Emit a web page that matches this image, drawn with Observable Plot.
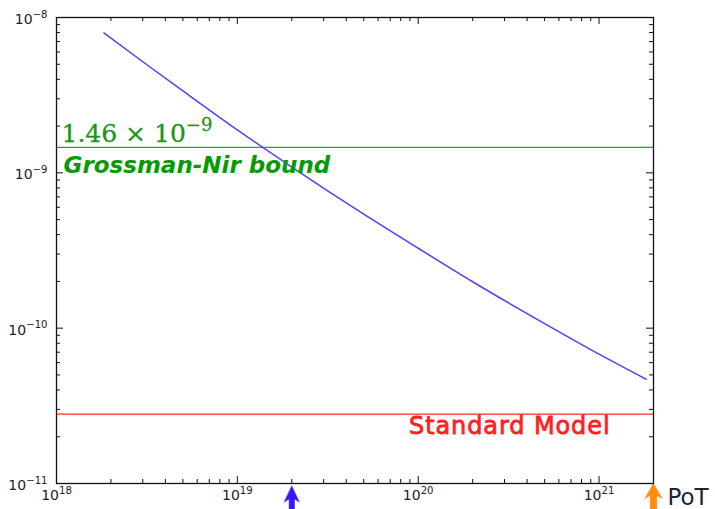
<!DOCTYPE html>
<html><head><meta charset="utf-8">
<script src="https://cdn.jsdelivr.net/npm/d3@7"></script>
<script src="https://cdn.jsdelivr.net/npm/@observablehq/plot@0.6"></script>
<style>body{margin:0;background:#fff} svg{display:block}</style>
</head><body>
<script>
// ---- data ----
const pot = [1.83e18, 3e18, 5e18, 1e19, 2e19, 5e19, 1e20, 2e20, 5e20, 1e21, 1.82e21];
const sensitivity = [7.96e-9, 5.19e-9, 3.37e-9, 1.89e-9, 1.09e-9, 5.42e-10, 3.27e-10, 1.99e-10, 1.07e-10, 6.8e-11, 4.69e-11];
const xDomain = [1e18, 2e21];
const yDomain = [1e-11, 1e-8];
const xMajor = [1e18, 1e19, 1e20, 1e21];
const yMajor = [1e-11, 1e-10, 1e-9, 1e-8];
const minorMultiples = [2, 3, 4, 5, 6, 7, 8, 9];
const grossmanNir = [1.46e-9];
const standardModel = [2.8e-11];
const gnValueLabel = ["1.46 × 10^−9"];
const gnNameLabel = ["Grossman-Nir bound"];
const smLabel = ["Standard Model"];
const blueArrowAt = [2e19];
const orangeArrowAt = [2e21];
const unitLabel = ["PoT"];

// ---- layout ----
const W = 715, H = 509, mL = 56, mR = 62, mT = 17, mB = 26;
const innerW = W - mL - mR, innerH = H - mT - mB;
const minorOf = (majors, dom) => majors.flatMap(p => minorMultiples.map(m => m * p)).filter(v => v > dom[0] && v < dom[1]);
const xMinor = minorOf(xMajor, xDomain);
const yMinor = minorOf(yMajor, yDomain);
const curveData = pot.map((x, i) => ({x, y: sensitivity[i]}));
const expFmt = d => "10^" + String(Math.round(Math.log10(d))).replace("-", "−");

function arrowShape(w, h, s, notch) {
  return {draw(ctx, l) {
    ctx.moveTo(0, -l);
    ctx.lineTo(w, -l + h);
    ctx.lineTo(s, -l + h - notch);
    ctx.lineTo(s, 0);
    ctx.lineTo(-s, 0);
    ctx.lineTo(-s, -l + h - notch);
    ctx.lineTo(-w, -l + h);
    ctx.closePath();
  }};
}
const tickColor = "#111";

const chart = Plot.plot({
  width: W, height: H,
  marginLeft: mL, marginRight: mR, marginTop: mT, marginBottom: mB,
  style: {fontFamily: "DejaVu Sans", fontSize: "14px", color: "#222", background: "white"},
  x: {type: "log", domain: xDomain},
  y: {type: "log", domain: yDomain},
  marks: [
    // inward ticks on all four sides
    Plot.tickX(xMajor, {x: d => d, insetTop: innerH - 7, stroke: tickColor}),
    Plot.tickX(xMinor, {x: d => d, insetTop: innerH - 4, stroke: tickColor}),
    Plot.tickX(xMajor, {x: d => d, insetBottom: innerH - 7, stroke: tickColor}),
    Plot.tickX(xMinor, {x: d => d, insetBottom: innerH - 4, stroke: tickColor}),
    Plot.tickY(yMajor, {y: d => d, insetRight: innerW - 7, stroke: tickColor}),
    Plot.tickY(yMinor, {y: d => d, insetRight: innerW - 4, stroke: tickColor}),
    Plot.tickY(yMajor, {y: d => d, insetLeft: innerW - 7, stroke: tickColor}),
    Plot.tickY(yMinor, {y: d => d, insetLeft: innerW - 4, stroke: tickColor}),
    Plot.axisX(xMajor, {anchor: "bottom", label: null, tickSize: 0, tickPadding: 7, tickFormat: expFmt, fontSize: 14}),
    Plot.axisY(yMajor, {anchor: "left", label: null, tickSize: 0, tickPadding: 9, dy: 2, tickFormat: expFmt, fontSize: 14}),
    Plot.ruleY(grossmanNir, {stroke: "#1fa81f", strokeWidth: 1.3}),
    Plot.ruleY(standardModel, {stroke: "#ff2a2a", strokeWidth: 1.3}),
    Plot.line(curveData, {x: "x", y: "y", stroke: "#5a3cff", strokeWidth: 1.5, curve: "monotone-x"}),
    Plot.text(gnValueLabel, {x: xDomain[0], y: grossmanNir[0], text: d => d, textAnchor: "start", lineAnchor: "bottom", dx: 5, dy: -5, fill: "#1a961a", stroke: "#1a961a", strokeWidth: 0.3, fontFamily: "DejaVu Serif", fontSize: 25}),
    Plot.text(gnNameLabel, {x: xDomain[0], y: grossmanNir[0], text: d => d, textAnchor: "start", lineAnchor: "bottom", dx: 7, dy: 26, fill: "#079a07", fontFamily: "DejaVu Sans", fontWeight: "bold", fontStyle: "italic", fontSize: 23}),
    Plot.text(smLabel, {x: xDomain[1], y: standardModel[0], text: d => d, textAnchor: "end", lineAnchor: "bottom", dx: -43, dy: 20, fill: "#ff1f1f", stroke: "#ff1f1f", strokeWidth: 0.8, fontFamily: "DejaVu Sans", fontSize: 24}),
    Plot.text(unitLabel, {x: xDomain[1], frameAnchor: "bottom", text: d => d, textAnchor: "start", lineAnchor: "bottom", dx: 14, dy: 21, fill: "#1c2436", fontFamily: "DejaVu Sans", fontSize: 23}),
    Plot.vector(blueArrowAt, {x: d => d, frameAnchor: "bottom", anchor: "end", rotate: 0, length: 30, dy: 2.5, shape: arrowShape(7.5, 16, 2.7, 3), fill: "#3a14ff", stroke: "#3a14ff", strokeWidth: 0.5}),
    Plot.vector(orangeArrowAt, {x: d => d, frameAnchor: "bottom", anchor: "end", rotate: 0, length: 30, dy: 0, shape: arrowShape(8.5, 15, 3.3, 3), fill: "#ff8c0a", stroke: "#ff8c0a", strokeWidth: 0.5}),
    Plot.frame({stroke: tickColor, strokeWidth: 1.3})
  ]
});
document.body.append(chart);

// render "base^exp" as superscripts; widen the Standard Model label slightly
(function post(root) {
  const ns = "http://www.w3.org/2000/svg";
  root.querySelectorAll("text").forEach(t => {
    if (t.textContent === smLabel[0]) t.setAttribute("letter-spacing", "0.9");
    if (t.querySelector("tspan")) return;
    const s = t.textContent;
    const k = s.indexOf("^");
    if (k < 0) return;
    const fs = parseFloat(getComputedStyle(t).fontSize) || 14;
    t.textContent = "";
    const a = document.createElementNS(ns, "tspan");
    a.textContent = s.slice(0, k);
    const b = document.createElementNS(ns, "tspan");
    b.textContent = s.slice(k + 1);
    b.setAttribute("dy", (-0.46 * fs).toFixed(1));
    b.setAttribute("font-size", (0.72 * fs).toFixed(1));
    t.append(a, b);
  });
})(chart);
</script>
</body></html>
